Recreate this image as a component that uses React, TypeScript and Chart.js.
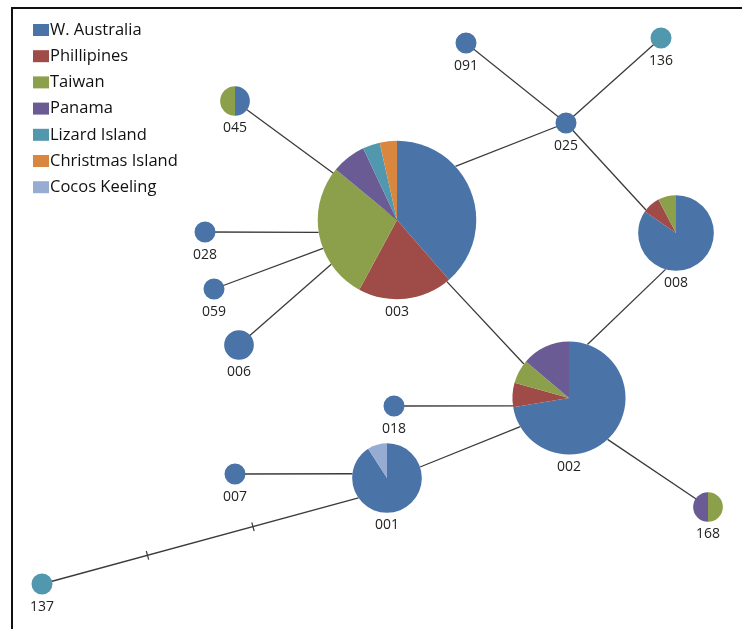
import React, { useEffect, useRef } from "react";
import { Chart, registerables } from "chart.js";

Chart.register(...registerables);

// Sampling regions and their colours
const regions = [
  "W. Australia",
  "Phillipines",
  "Taiwan",
  "Panama",
  "Lizard Island",
  "Christmas Island",
  "Cocos Keeling",
];
const regionColors = ["#4a73a8", "#9f4b47", "#8ca04b", "#6a5b95", "#5197ae", "#d9873f", "#96acd3"];

// Haplotypes and their layout position in the network
const haplotypes = ["003", "002", "001", "008", "025", "091", "136", "045", "028", "059", "006", "018", "007", "137", "168"];
const nodeX = [397, 569, 387, 676, 566, 466, 661, 235, 205, 214, 239, 394, 235, 42, 708];
const nodeY = [220, 398, 478, 233, 123, 43, 38, 101, 232, 289, 345, 406, 474, 584, 507];

// Individuals per haplotype, one array per region (same order as haplotypes)
const countWAustralia = [22, 21, 10, 11, 1, 1, 0, 1, 1, 1, 2, 1, 1, 0, 0];
const countPhillipines = [11, 2, 0, 1, 0, 0, 0, 0, 0, 0, 0, 0, 0, 0, 0];
const countTaiwan = [16, 2, 0, 1, 0, 0, 0, 1, 0, 0, 0, 0, 0, 0, 1];
const countPanama = [4, 4, 0, 0, 0, 0, 0, 0, 0, 0, 0, 0, 0, 0, 1];
const countLizard = [2, 0, 0, 0, 0, 0, 1, 0, 0, 0, 0, 0, 0, 1, 0];
const countChristmas = [2, 0, 0, 0, 0, 0, 0, 0, 0, 0, 0, 0, 0, 0, 0];
const countCocos = [0, 0, 1, 0, 0, 0, 0, 0, 0, 0, 0, 0, 0, 0, 0];
const regionCounts = [countWAustralia, countPhillipines, countTaiwan, countPanama, countLizard, countChristmas, countCocos];

// Network links; attachment angles (degrees clockwise from 12 o'clock) on the node rim, null = centre
const edgeFrom = ["045", "028", "059", "006", "003", "091", "136", "025", "008", "003", "018", "001", "007", "137", "002"];
const edgeTo = ["003", "003", "003", "003", "025", "025", "025", "008", "002", "002", "002", "002", "001", "001", "168"];
const edgeFromAngle: (number | null)[] = [null, null, null, null, 47.5, null, null, null, 196, 141, null, 71.6, null, null, 137];
const edgeToAngle: (number | null)[] = [null, 261, 249, 236, null, null, null, 307.5, 19, 307, 262, 239.5, 277, 235, null];
// Extra mutational steps marked along a link
const edgeSteps = [0, 0, 0, 0, 0, 0, 0, 0, 0, 0, 0, 0, 0, 2, 0];

const UNIT_RADIUS = 10.5;
const FONT = "'Open Sans', sans-serif";

const totals = haplotypes.map((_, i) => regionCounts.reduce((s, arr) => s + arr[i], 0));
const radii = totals.map((n) => UNIT_RADIUS * Math.sqrt(n));

function rimPoint(idx: number, angle: number | null) {
  if (angle === null) return { x: nodeX[idx], y: nodeY[idx] };
  const a = (angle * Math.PI) / 180;
  return { x: nodeX[idx] + radii[idx] * Math.sin(a), y: nodeY[idx] - radii[idx] * Math.cos(a) };
}

function buildDatasets() {
  const sets: any[] = [];
  const ticks: { x: number; y: number }[] = [];
  const tickRot: number[] = [];
  edgeFrom.forEach((f, e) => {
    const a = haplotypes.indexOf(f);
    const b = haplotypes.indexOf(edgeTo[e]);
    const p = rimPoint(a, edgeFromAngle[e]);
    const q = rimPoint(b, edgeToAngle[e]);
    sets.push({
      data: [p, q],
      showLine: true,
      borderColor: "#3b3b3b",
      borderWidth: 1.3,
      pointRadius: 0,
    });
    const n = edgeSteps[e];
    const rot = (Math.atan2(q.y - p.y, q.x - p.x) * 180) / Math.PI + 90;
    for (let k = 1; k <= n; k++) {
      const t = k / (n + 1);
      ticks.push({ x: p.x + (q.x - p.x) * t, y: p.y + (q.y - p.y) * t });
      tickRot.push(rot);
    }
  });
  sets.push({
    data: ticks,
    showLine: false,
    pointStyle: "line",
    pointRadius: 4.5,
    rotation: tickRot,
    borderColor: "#3b3b3b",
    borderWidth: 1.2,
  });
  return sets;
}

const networkPlugin = {
  id: "haplotypeNetwork",
  beforeDraw(chart: any) {
    const ctx = chart.ctx;
    ctx.save();
    ctx.fillStyle = "#ffffff";
    ctx.fillRect(0, 0, chart.width, chart.height);
    // frame
    ctx.fillStyle = "#111111";
    ctx.fillRect(11, 7, chart.width - 11, 2);
    ctx.fillRect(11, 7, 2, chart.height - 7);
    ctx.restore();
  },
  afterDatasetsDraw(chart: any) {
    const ctx = chart.ctx;
    const xs = chart.scales.x;
    const ys = chart.scales.y;
    ctx.save();
    haplotypes.forEach((name, i) => {
      const cx = xs.getPixelForValue(nodeX[i]);
      const cy = ys.getPixelForValue(nodeY[i]);
      const r = xs.getPixelForValue(nodeX[i] + radii[i]) - cx;
      let start = -Math.PI / 2;
      regionCounts.forEach((arr, k) => {
        const v = arr[i];
        if (!v) return;
        const sweep = (v / totals[i]) * Math.PI * 2;
        ctx.beginPath();
        ctx.moveTo(cx, cy);
        ctx.arc(cx, cy, r, start, start + sweep);
        ctx.closePath();
        ctx.fillStyle = regionColors[k];
        ctx.fill();
        start += sweep;
      });
      ctx.fillStyle = "#222222";
      ctx.font = `14px ${FONT}`;
      ctx.textAlign = "center";
      ctx.textBaseline = "middle";
      ctx.fillText(name, cx, cy + r + 12.5);
    });

    // legend
    ctx.font = `16.5px ${FONT}`;
    ctx.textAlign = "left";
    ctx.textBaseline = "middle";
    regions.forEach((label, k) => {
      const y = 30 + k * 26.2;
      ctx.fillStyle = regionColors[k];
      ctx.fillRect(33, y - 6, 16, 12);
      ctx.fillStyle = "#111111";
      ctx.fillText(label, 50, y);
    });
    ctx.restore();
  },
};

export default function App() {
  const canvasRef = useRef<HTMLCanvasElement | null>(null);

  useEffect(() => {
    if (!canvasRef.current) return;
    const chart = new Chart(canvasRef.current, {
      type: "scatter",
      data: { datasets: buildDatasets() },
      options: {
        responsive: false,
        animation: false,
        events: [],
        layout: { padding: 0, autoPadding: false },
        plugins: { legend: { display: false }, tooltip: { enabled: false } },
        scales: {
          x: { type: "linear", min: 0, max: 742, display: false },
          y: { type: "linear", min: 0, max: 629, reverse: true, display: false },
        },
      },
      plugins: [networkPlugin],
    });
    return () => chart.destroy();
  }, []);

  return (
    <div style={{ position: "absolute", left: 0, top: 0, width: 742, height: 629 }}>
      <canvas ref={canvasRef} width={742} height={629} style={{ width: 742, height: 629 }} />
    </div>
  );
}
